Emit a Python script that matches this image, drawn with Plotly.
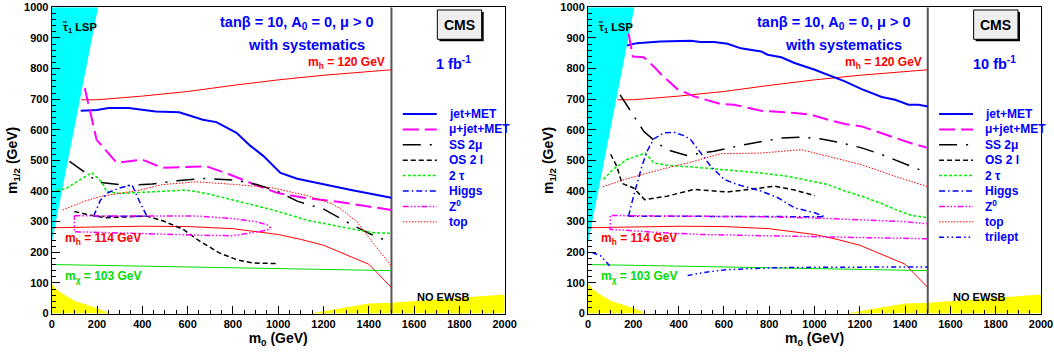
import plotly.graph_objects as go

W, H = 1054, 352
FONT = "Liberation Sans, Arial, Helvetica, sans-serif"

# ---------------- shared physics boundaries ----------------
stau_lsp_m0 = [0, 205, 0]
stau_lsp_m12 = [230, 1000, 1000]
noewsb_low_m0 = [0, 0, 20, 50, 100, 150, 200, 262]
noewsb_low_m12 = [0, 97, 80, 64, 42, 30, 17, 0]
noewsb_high_m0 = [1140, 1300, 1400, 1500, 2000, 2000]
noewsb_high_m12 = [0, 20, 33, 35, 62, 0]
mh120_m0 = [130, 200, 400, 600, 800, 1000, 1200, 1500]
mh120_m12 = [698, 698, 710, 725, 745, 763, 778, 796]
mh114_m0 = [0, 200, 400, 600, 800, 1000, 1100, 1200, 1300, 1400, 1500]
mh114_m12 = [280, 282, 285, 284, 277, 258, 242, 223, 192, 161, 85]
mchi_m0 = [0, 500, 1000, 1500]
mchi_m12 = [160, 153, 145, 140]
boundary_m0 = [1500, 1500]
boundary_m12 = [0, 1000]

# ---------------- 1 fb^-1 reach curves ----------------
jetmet_1_m0 = [128, 200, 250, 340, 459, 563, 667, 727, 816, 875, 935, 1010, 1084, 1203, 1322, 1500]
jetmet_1_m12 = [662, 665, 671, 671, 660, 657, 633, 625, 590, 549, 514, 459, 440, 421, 403, 378]
mujet_1_m0 = [146, 198, 287, 399, 488, 607, 682, 786, 876, 995, 1114, 1263, 1500]
mujet_1_m12 = [736, 568, 492, 503, 476, 478, 481, 454, 427, 394, 378, 365, 338]
ss2mu_1_m0 = [79, 205, 340, 444, 563, 667, 816, 905, 995, 1084, 1203, 1322, 1412, 1500]
ss2mu_1_m12 = [497, 429, 418, 423, 434, 441, 435, 421, 400, 367, 340, 291, 258, 231]
os2l_1_m0 = [100, 190, 240, 300, 420, 490, 580, 650, 740, 820, 890, 995]
os2l_1_m12 = [333, 318, 313, 315, 318, 303, 275, 238, 198, 175, 165, 163]
tau2_1_m0 = [0, 66, 110, 177, 221, 243, 302, 434, 596, 684, 831, 978, 1126, 1273, 1347, 1420, 1500]
tau2_1_m12 = [398, 409, 430, 460, 430, 398, 392, 398, 403, 392, 365, 338, 305, 283, 273, 264, 262]
higgs_1_m0 = [185, 215, 250, 300, 355, 385, 420, 185]
higgs_1_m12 = [318, 370, 395, 410, 420, 370, 318, 318]
z0_1_m0 = [100, 300, 500, 650, 800, 900, 950, 965, 950, 880, 800, 700, 550, 400, 250, 100, 100]
z0_1_m12 = [319, 319, 320, 318, 310, 300, 290, 280, 272, 263, 254, 255, 258, 262, 265, 267, 319]
top_1_m0 = [48, 146, 220, 390, 488, 640, 816, 978, 1126, 1233, 1273, 1347, 1420, 1500]
top_1_m12 = [338, 367, 383, 403, 421, 430, 421, 410, 385, 360, 343, 300, 229, 155]

# ---------------- 10 fb^-1 reach curves ----------------
jetmet_10_m0 = [172, 216, 320, 453, 497, 557, 616, 675, 764, 793, 853, 912, 1001, 1060, 1134, 1208, 1297, 1356, 1415, 1460, 1500]
jetmet_10_m12 = [875, 883, 888, 891, 887, 887, 881, 866, 856, 845, 837, 818, 796, 780, 758, 733, 707, 698, 682, 682, 676]
mujet_10_m0 = [179, 198, 246, 290, 320, 394, 468, 542, 586, 645, 764, 912, 986, 1060, 1134, 1208, 1282, 1356, 1430, 1500]
mujet_10_m12 = [915, 839, 837, 807, 783, 733, 709, 693, 684, 682, 662, 655, 649, 633, 619, 611, 592, 573, 555, 541]
ss2mu_10_m0 = [142, 201, 246, 305, 349, 409, 438, 497, 557, 675, 764, 853, 942, 1030, 1119, 1208, 1297, 1386, 1500]
ss2mu_10_m12 = [714, 644, 595, 557, 535, 522, 516, 524, 530, 549, 562, 573, 576, 570, 557, 541, 519, 492, 459]
os2l_10_m0 = [100, 127, 150, 201, 250, 349, 423, 468, 557, 616, 764, 823, 912, 1001]
os2l_10_m12 = [520, 481, 425, 410, 372, 383, 397, 405, 400, 397, 410, 416, 403, 385]
tau2_10_m0 = [68, 113, 172, 253, 290, 349, 468, 542, 616, 764, 882, 986, 1060, 1134, 1208, 1297, 1356, 1430, 1500]
tau2_10_m12 = [438, 472, 503, 524, 492, 484, 478, 473, 470, 459, 448, 432, 421, 400, 383, 359, 340, 320, 313]
higgs_10_m0 = [179, 201, 238, 261, 290, 335, 379, 423, 453, 497, 542, 601, 660, 764, 838, 912, 1001, 1045, 179]
higgs_10_m12 = [318, 383, 481, 530, 570, 590, 592, 581, 568, 524, 481, 438, 421, 400, 378, 345, 329, 316, 318]
z0_10_m0 = [1500, 1208, 1000, 764, 500, 320, 98, 98, 300, 500, 764, 1000, 1208, 1400, 1500]
z0_10_m12 = [244, 248, 250, 253, 258, 264, 275, 320, 319, 318, 316, 312, 307, 300, 293]
top_10_m0 = [65, 172, 320, 468, 586, 764, 942, 1060, 1208, 1356, 1500]
top_10_m12 = [414, 440, 470, 497, 522, 524, 535, 514, 486, 448, 414]
trilept_10_m0 = [20, 55, 104, None, 440, 520, 610, 803, 1000, 1200, 1500]
trilept_10_m12 = [198, 189, 149, None, 124, 135, 143, 149, 151, 152, 152]

# ---------------- labels ----------------
legend_labels_1 = ["jet+MET", "μ+jet+MET", "SS 2μ", "OS 2 l", "2 τ", "Higgs", "Z<sup>0</sup>", "top"]
legend_labels_10 = legend_labels_1 + ["trilept"]
lumi_labels = ["1 fb<sup>-1</sup>", "10 fb<sup>-1</sup>"]

STYLE = {
    "jet+MET": dict(color="#0000ff", dash="solid", width=2),
    "μ+jet+MET": dict(color="#ff00ff", dash="16px,6px", width=2),
    "SS 2μ": dict(color="#000000", dash="18px,9px,2px,9px", width=1.5),
    "OS 2 l": dict(color="#000000", dash="5px,3px", width=1.5),
    "2 τ": dict(color="#00ee00", dash="3px,2px", width=1.5),
    "Higgs": dict(color="#0000ff", dash="6px,3px,1.5px,3px", width=1.5),
    "Z<sup>0</sup>": dict(color="#ff00ff", dash="6px,2px,1.5px,2px,1.5px,2px,1.5px,2px", width=1.5),
    "top": dict(color="#ff0000", dash="1.5px,1.5px", width=1),
    "trilept": dict(color="#0000ff", dash="5px,3px,1.5px,3px,1.5px,3px", width=1.5),
}

panels = [
    dict(xa="x", ya="y", curves=[
        ("jet+MET", jetmet_1_m0, jetmet_1_m12), ("μ+jet+MET", mujet_1_m0, mujet_1_m12),
        ("SS 2μ", ss2mu_1_m0, ss2mu_1_m12), ("OS 2 l", os2l_1_m0, os2l_1_m12),
        ("2 τ", tau2_1_m0, tau2_1_m12), ("Higgs", higgs_1_m0, higgs_1_m12),
        ("Z<sup>0</sup>", z0_1_m0, z0_1_m12), ("top", top_1_m0, top_1_m12)],
        legend=legend_labels_1, lumi=lumi_labels[0], lumi_x=0.887),
    dict(xa="x2", ya="y2", curves=[
        ("jet+MET", jetmet_10_m0, jetmet_10_m12), ("μ+jet+MET", mujet_10_m0, mujet_10_m12),
        ("SS 2μ", ss2mu_10_m0, ss2mu_10_m12), ("OS 2 l", os2l_10_m0, os2l_10_m12),
        ("2 τ", tau2_10_m0, tau2_10_m12), ("Higgs", higgs_10_m0, higgs_10_m12),
        ("Z<sup>0</sup>", z0_10_m0, z0_10_m12), ("top", top_10_m0, top_10_m12),
        ("trilept", trilept_10_m0, trilept_10_m12)],
        legend=legend_labels_10, lumi=lumi_labels[1], lumi_x=0.898),
]

fig = go.Figure()
shapes, annotations = [], []

for p in panels:
    xa, ya = p["xa"], p["ya"]
    common = dict(xaxis=xa, yaxis=ya, showlegend=False, hoverinfo="skip", mode="lines")
    fig.add_trace(go.Scatter(x=stau_lsp_m0, y=stau_lsp_m12, fill="toself", fillcolor="#00ffff",
                             line=dict(width=0, color="#00ffff"), **common))
    fig.add_trace(go.Scatter(x=noewsb_low_m0, y=noewsb_low_m12, fill="toself", fillcolor="#ffff00",
                             line=dict(width=0, color="#ffff00"), **common))
    fig.add_trace(go.Scatter(x=noewsb_high_m0, y=noewsb_high_m12, fill="toself", fillcolor="#ffff00",
                             line=dict(width=0, color="#ffff00"), **common))
    fig.add_trace(go.Scatter(x=boundary_m0, y=boundary_m12, line=dict(color="#555555", width=2), **common))
    fig.add_trace(go.Scatter(x=mh120_m0, y=mh120_m12, line=dict(color="#ff0000", width=1), **common))
    fig.add_trace(go.Scatter(x=mh114_m0, y=mh114_m12, line=dict(color="#ff0000", width=1), **common))
    fig.add_trace(go.Scatter(x=mchi_m0, y=mchi_m12, line=dict(color="#00dd00", width=1), **common))
    for name, xs, ys in p["curves"]:
        st = STYLE[name]
        fig.add_trace(go.Scatter(x=xs, y=ys, name=name, connectgaps=False,
                                 line=dict(color=st["color"], dash=st["dash"], width=st["width"]), **common))

    xd, yd = xa + " domain", ya + " domain"

    def ann(text, x, y, size, color, xanchor="left", yanchor="middle"):
        annotations.append(dict(text=text, x=x, y=y, xref=xd, yref=yd, showarrow=False,
                                xanchor=xanchor, yanchor=yanchor,
                                font=dict(family=FONT, size=size, color=color, weight="bold")))

    ann("tanβ = 10, A<sub>0</sub> = 0, μ > 0", 0.542, 0.948, 14.5, "#0000ff", "center")
    ann("with systematics", 0.563, 0.877, 14.5, "#0000ff", "center")
    ann("m<sub>h</sub> = 120 GeV", 0.741, 0.818, 12, "#ff0000", "right")
    ann("m<sub>h</sub> = 114 GeV", 0.024, 0.243, 12, "#ff0000")
    ann("m<sub>χ</sub> = 103 GeV", 0.024, 0.119, 12, "#00dd00")
    ann("τ̃<sub>1</sub> LSP", 0.020, 0.931, 11, "#000000")
    ann("NO EWSB", 0.802, 0.055, 11, "#000000")
    ann("CMS", 0.900, 0.943, 14, "#000000", "center")
    ann(p["lumi"], p["lumi_x"], 0.818, 14.5, "#0000ff", "center")

    # CMS box with shadow
    shapes.append(dict(type="rect", xref=xd, yref=yd, x0=0.8557, x1=0.9536, y0=0.8890, y1=0.9847,
                       fillcolor="#000000", line=dict(width=0), layer="above"))
    shapes.append(dict(type="rect", xref=xd, yref=yd, x0=0.8513, x1=0.9492, y0=0.8955, y1=0.9912,
                       fillcolor="#eeeeee", line=dict(width=1, color="#000000"), layer="above"))

    # legend
    for i, name in enumerate(p["legend"]):
        yy = 0.6515 - i * 0.0503
        st = STYLE[name]
        shapes.append(dict(type="line", xref=xd, yref=yd, x0=0.775, x1=0.850, y0=yy, y1=yy,
                           line=dict(color=st["color"], dash=st["dash"], width=st["width"])))
        ann(name, 0.872, yy, 12, "#0000ff")

axis_font = dict(family=FONT, size=11, color="black", weight="bold")
title_font = dict(family=FONT, size=14, color="black", weight="bold")

def xaxis(domain, anchor):
    return dict(domain=domain, anchor=anchor, range=[0, 2000], tick0=0, dtick=200,
                ticks="inside", ticklen=8, tickwidth=1, tickcolor="black",
                minor=dict(ticks="inside", dtick=50, ticklen=4, tickcolor="black", tickwidth=1),
                showline=True, linecolor="black", linewidth=1, mirror=True,
                showgrid=False, zeroline=False, tickfont=axis_font, automargin=False,
                ticklabeloverflow="allow",
                title=dict(text="m<sub>0</sub> (GeV)", font=title_font, standoff=2))

def yaxis(domain, anchor):
    return dict(domain=domain, anchor=anchor, range=[0, 1000], tick0=0, dtick=100,
                ticks="inside", ticklen=8, tickwidth=1, tickcolor="black",
                minor=dict(ticks="inside", dtick=20, ticklen=4, tickcolor="black", tickwidth=1),
                showline=True, linecolor="black", linewidth=1, mirror=True,
                showgrid=False, zeroline=False, tickfont=axis_font, automargin=False,
                ticklabeloverflow="allow",
                title=dict(text="m<sub>1/2</sub> (GeV)", font=title_font, standoff=3))

ydom = [1 - 313.5 / H, 1 - 7.3 / H]
fig.update_layout(
    width=W, height=H, margin=dict(l=0, r=0, t=0, b=0),
    paper_bgcolor="white", plot_bgcolor="white",
    xaxis=xaxis([51.7 / W, 504.7 / W], "y"),
    yaxis=yaxis(ydom, "x"),
    xaxis2=xaxis([588 / W, 1041 / W], "y2"),
    yaxis2=yaxis(ydom, "x2"),
    shapes=shapes, annotations=annotations, showlegend=False,
)

fig.write_html(
    "out.html",
    config={"displayModeBar": False},
    post_script="document.body.style.margin='0';document.body.style.overflow='hidden';",
)
